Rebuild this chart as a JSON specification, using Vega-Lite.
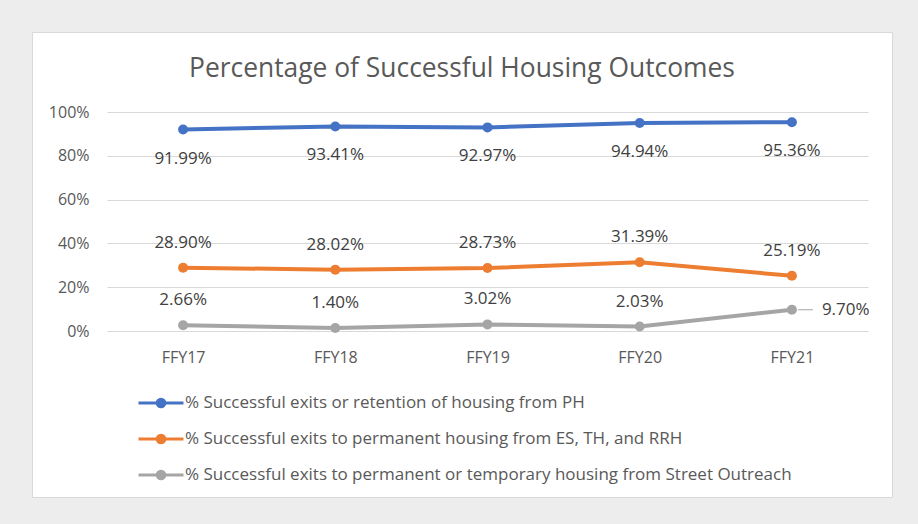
{
  "$schema": "https://vega.github.io/schema/vega-lite/v6.json",
  "width": 860,
  "height": 465,
  "autosize": {"type": "none"},
  "padding": {"left": 32, "top": 32, "right": 26, "bottom": 27},
  "background": "#ededed",
  "config": {
    "view": {"fill": "white", "stroke": "#d9d9d9", "strokeWidth": 1},
    "font": "Open Sans",
    "axis": {"labelFont": "Open Sans", "labelFontSize": 16, "labelColor": "#595959", "domain": false, "ticks": false, "title": null},
    "legend": {"labelFont": "Open Sans", "labelFontSize": 17, "labelColor": "#595959"},
    "text": {"font": "Open Sans", "fontSize": 17, "color": "#404040"}
  },
  "title": {
    "text": "Percentage of Successful Housing Outcomes",
    "font": "Open Sans",
    "fontSize": 26.4,
    "fontWeight": "normal",
    "color": "#595959",
    "anchor": "middle",
    "frame": "group",
    "baseline": "alphabetic",
    "offset": 0,
    "dy": 71
  },
  "data": {
    "values": [
      {"year": "FFY17", "fy": 17, "series": "% Successful exits or retention of housing from PH", "value": 0.9199},
      {"year": "FFY18", "fy": 18, "series": "% Successful exits or retention of housing from PH", "value": 0.9341},
      {"year": "FFY19", "fy": 19, "series": "% Successful exits or retention of housing from PH", "value": 0.9297},
      {"year": "FFY20", "fy": 20, "series": "% Successful exits or retention of housing from PH", "value": 0.9494},
      {"year": "FFY21", "fy": 21, "series": "% Successful exits or retention of housing from PH", "value": 0.9536},
      {"year": "FFY17", "fy": 17, "series": "% Successful exits to permanent housing from ES, TH, and RRH", "value": 0.2890},
      {"year": "FFY18", "fy": 18, "series": "% Successful exits to permanent housing from ES, TH, and RRH", "value": 0.2802},
      {"year": "FFY19", "fy": 19, "series": "% Successful exits to permanent housing from ES, TH, and RRH", "value": 0.2873},
      {"year": "FFY20", "fy": 20, "series": "% Successful exits to permanent housing from ES, TH, and RRH", "value": 0.3139},
      {"year": "FFY21", "fy": 21, "series": "% Successful exits to permanent housing from ES, TH, and RRH", "value": 0.2519},
      {"year": "FFY17", "fy": 17, "series": "% Successful exits to permanent or temporary housing from Street Outreach", "value": 0.0266},
      {"year": "FFY18", "fy": 18, "series": "% Successful exits to permanent or temporary housing from Street Outreach", "value": 0.0140},
      {"year": "FFY19", "fy": 19, "series": "% Successful exits to permanent or temporary housing from Street Outreach", "value": 0.0302},
      {"year": "FFY20", "fy": 20, "series": "% Successful exits to permanent or temporary housing from Street Outreach", "value": 0.0203},
      {"year": "FFY21", "fy": 21, "series": "% Successful exits to permanent or temporary housing from Street Outreach", "value": 0.0970}
    ]
  },
  "encoding": {
    "x": {
      "field": "fy",
      "type": "quantitative",
      "scale": {"domain": [16.5, 21.5], "range": [75, 836], "nice": false, "zero": false},
      "axis": {"values": [17, 18, 19, 20, 21], "labelExpr": "'FFY' + datum.value", "grid": false, "offset": -150, "labelPadding": 2}
    },
    "y": {
      "field": "value",
      "type": "quantitative",
      "scale": {"domain": [0, 1], "range": [299, 80], "nice": false, "zero": false},
      "axis": {"values": [0, 0.2, 0.4, 0.6, 0.8, 1], "format": ".0%", "grid": true, "gridColor": "#d9d9d9", "gridWidth": 1, "offset": -59, "labelPadding": 2}
    }
  },
  "layer": [
    {
      "mark": {"type": "line", "strokeWidth": 4},
      "encoding": {
        "color": {
          "field": "series",
          "type": "nominal",
          "scale": {
            "domain": [
              "% Successful exits or retention of housing from PH",
              "% Successful exits to permanent housing from ES, TH, and RRH",
              "% Successful exits to permanent or temporary housing from Street Outreach"
            ],
            "range": ["#4472c4", "#ed7d31", "#a5a5a5"]
          },
          "legend": {
            "title": null,
            "orient": "none",
            "legendX": 105,
            "legendY": 347,
            "direction": "vertical",
            "symbolType": "M-1,0L1,0M-0.17,0A0.17,0.17,0,1,0,0.17,0A0.17,0.17,0,1,0,-0.17,0",
            "symbolSize": 2025,
            "symbolStrokeWidth": 3,
            "labelLimit": 0,
            "labelOffset": 0,
            "rowPadding": 2,
            "encode": {"symbols": {"update": {"fill": {"scale": "color", "field": "value"}, "fillOpacity": {"value": 1}}}}
          }
        }
      }
    },
    {
      "mark": {"type": "point", "filled": true, "size": 100, "opacity": 1},
      "encoding": {"color": {"field": "series", "type": "nominal", "legend": null}}
    },
    {
      "transform": [{"filter": "datum.series === '% Successful exits or retention of housing from PH'"}],
      "mark": {"type": "text", "dy": 29, "baseline": "middle"},
      "encoding": {"text": {"field": "value", "type": "quantitative", "format": ".2%"}}
    },
    {
      "transform": [{"filter": "datum.series !== '% Successful exits or retention of housing from PH' && !(datum.series === '% Successful exits to permanent or temporary housing from Street Outreach' && datum.fy === 21)"}],
      "mark": {"type": "text", "dy": -25, "baseline": "middle"},
      "encoding": {"text": {"field": "value", "type": "quantitative", "format": ".2%"}}
    },
    {
      "transform": [{"filter": "datum.series === '% Successful exits to permanent or temporary housing from Street Outreach' && datum.fy === 21"}],
      "mark": {"type": "rule", "color": "#a5a5a5", "strokeWidth": 1, "xOffset": 6, "x2Offset": 21},
      "encoding": {"x2": {"field": "fy"}}
    },
    {
      "transform": [{"filter": "datum.series === '% Successful exits to permanent or temporary housing from Street Outreach' && datum.fy === 21"}],
      "mark": {"type": "text", "dx": 30, "align": "left", "baseline": "middle"},
      "encoding": {"text": {"field": "value", "type": "quantitative", "format": ".2%"}}
    }
  ]
}
